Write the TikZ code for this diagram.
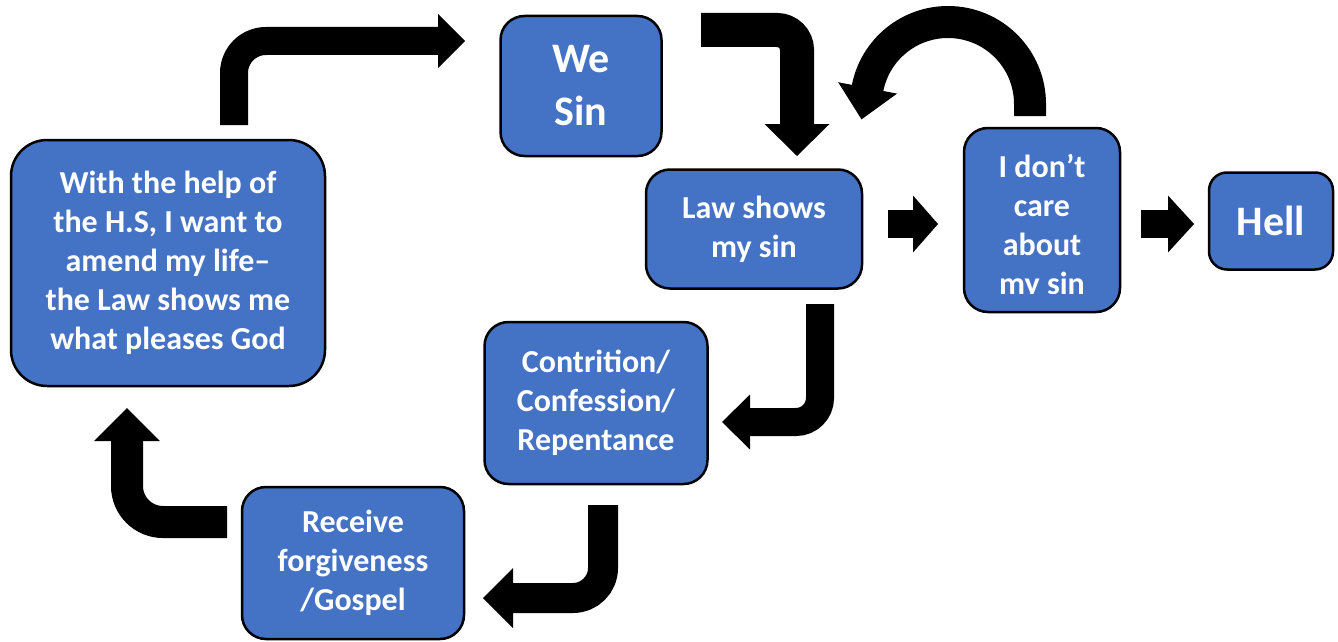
\documentclass[tikz,border=0pt]{standalone}
\usepackage{fontspec}
\setmainfont{Carlito}
\usetikzlibrary{arrows.meta}
\definecolor{boxblue}{HTML}{4472C4}

\begin{document}
\begin{tikzpicture}[x=1pt,y=-1pt,
	box/.style={draw=black, line width=2.5pt, fill=boxblue, rounded corners=24pt, text=white,
		font=\bfseries\fontsize{32}{39}\selectfont, align=center, inner sep=0pt},
	bigtext/.style={font=\bfseries\fontsize{42}{53}\selectfont},
	barrow/.style n args={3}{line width=#1, -{Triangle[length=#2, width=#3, line width=0pt]}}]
	\useasboundingbox (0,0) rectangle (1338,642);

	% boxes
	\node[box, bigtext, minimum width=161pt, minimum height=140pt] (sin) at (581,86) {We\\Sin};
	\node[box, rounded corners=36pt, minimum width=314pt, minimum height=246pt] (amend) at (168,263)
		{With the help of\\the H.S, I want to\\amend my life–\\the Law shows me\\what pleases God};
	\node[box, minimum width=216pt, minimum height=119pt] (law) at (754,229) {Law shows\\my sin};
	\node[box, minimum width=156pt, minimum height=184pt] (care) at (1042,220) {};
	\begin{scope}
		\clip (963,127) rectangle (1121,293);
		\node[box, draw=none, fill=none, anchor=north] (caretext) at (1042,153) {I don’t\\care\\about\\my sin};
	\end{scope}
	\node[box, bigtext, rounded corners=18pt, minimum width=124pt, minimum height=97pt] (hell) at (1271,221) {Hell};
	\node[box, minimum width=223pt, minimum height=162pt] (contr) at (596,403) {Contrition/\\Confession/\\Repentance};
	\node[box, minimum width=222pt, minimum height=152pt] (recv) at (353,563) {Receive\\forgiveness\\/Gospel};

	% arrow ends
	\coordinate (a1s) at (234,125);
	\coordinate (a1e) at (465,41);
	\coordinate (a2s) at (701,30);
	\coordinate (a2e) at (797,156);
	\coordinate (a3s) at (1030,116);
	\coordinate (a4s) at (888,224);
	\coordinate (a4e) at (938,224);
	\coordinate (a5s) at (1141,224);
	\coordinate (a5e) at (1194,224);
	\coordinate (a6s) at (820,304);
	\coordinate (a6e) at (722,422);
	\coordinate (a7s) at (603,505);
	\coordinate (a7e) at (483,598);
	\coordinate (a8s) at (227,522);
	\coordinate (a8e) at (127,408);

	% arrows
	\draw[barrow={28pt}{27pt}{54pt}, rounded corners=32pt] (a1s) |- (a1e);
	\draw[barrow={34pt}{32pt}{65pt}, rounded corners=20pt] (a2s) -| (a2e);
	\draw[barrow={32pt}{32pt}{60pt}] (a3s) -- ++(0,-12) arc[start angle=0, end angle=-169, radius=82] -- ++(-6,31);
	\draw[barrow={28pt}{25pt}{57pt}] (a4s) -- (a4e);
	\draw[barrow={28pt}{26pt}{57pt}] (a5s) -- (a5e);
	\draw[barrow={28pt}{28pt}{55pt}, rounded corners=24pt] (a6s) |- (a6e);
	\draw[barrow={30pt}{30pt}{60pt}, rounded corners=30pt] (a7s) |- (a7e);
	\draw[barrow={32pt}{33pt}{66pt}, rounded corners=36pt] (a8s) -| (a8e);
\end{tikzpicture}
\end{document}
